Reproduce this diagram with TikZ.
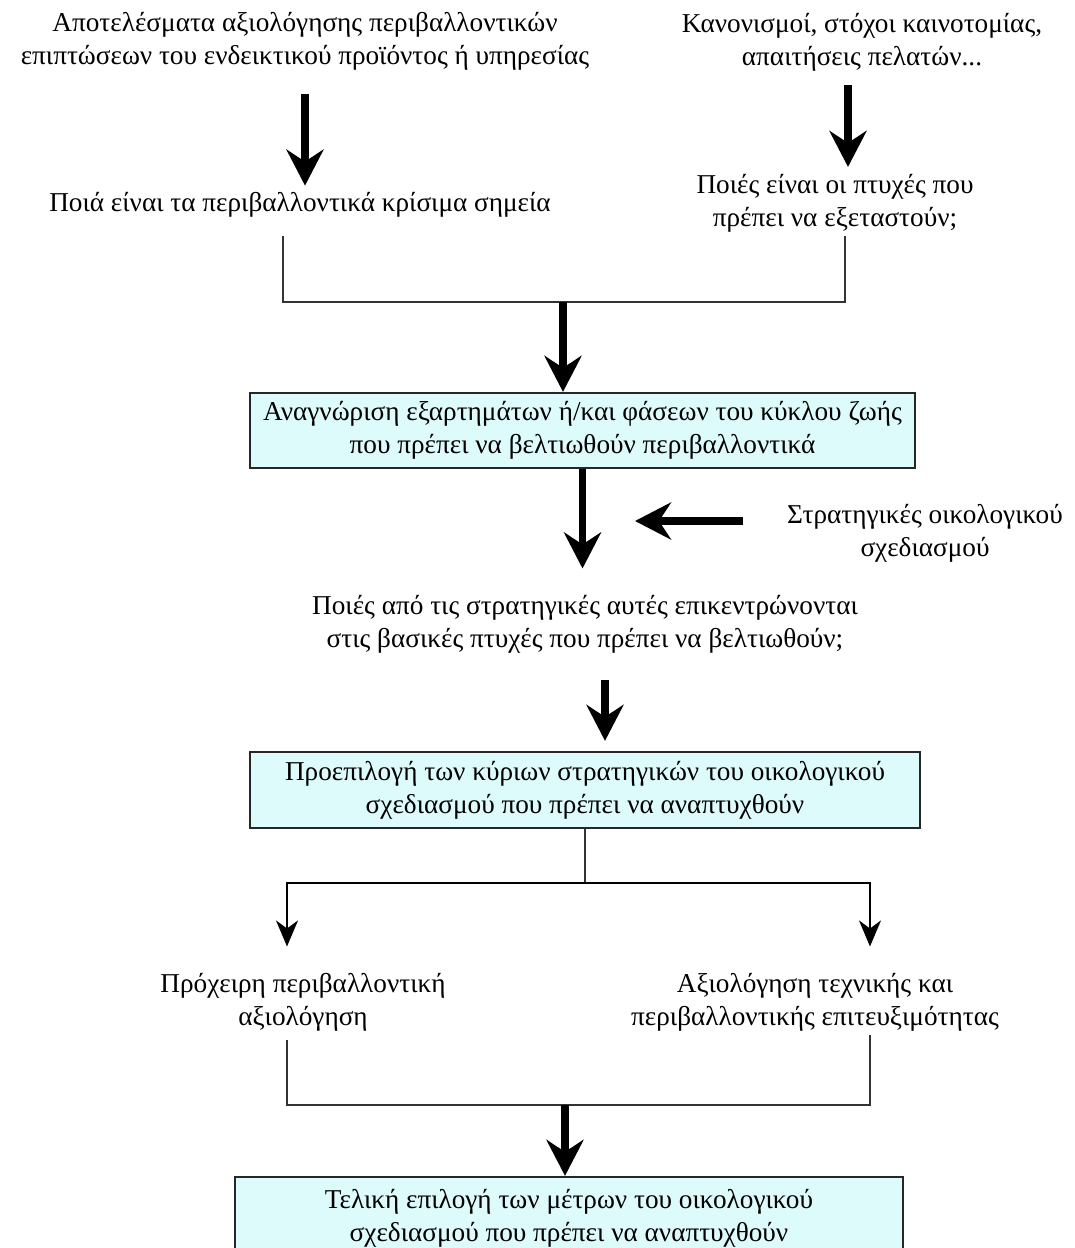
\documentclass[tikz,border=0pt]{standalone}
\usepackage{fontspec}
\setmainfont{Liberation Serif}
\usetikzlibrary{arrows.meta}
\definecolor{boxcyan}{RGB}{222,251,252}
\tikzset{
  txt/.style={align=center, font=\fontsize{15.5}{19}\selectfont, inner sep=2pt},
  greekbox/.style={txt, draw=black!85, line width=1.3pt, fill=boxcyan},
  bigarrow/.style={line width=4.2pt, -{Stealth[length=0.72cm,width=0.74cm,inset=0.24cm]}},
  thinarrow/.style={line width=1.1pt, -{Stealth[length=0.52cm,width=0.44cm,inset=0.16cm]}},
  joinline/.style={line width=1.2pt, black!80},
}
\begin{document}
\begin{tikzpicture}[x=0.02cm, y=-0.02cm]
        \path[use as bounding box, fill=white] (0,0) rectangle (1075,1248);

        % Texts at the top
        \node[txt] (res) at (305,41) {Αποτελέσματα αξιολόγησης περιβαλλοντικών\\επιπτώσεων του ενδεικτικού προϊόντος ή υπηρεσίας};
        \node[txt] (reg) at (862,42) {Κανονισμοί, στόχοι καινοτομίας,\\απαιτήσεις πελατών...};
        \node[txt] (crit) at (300,205) {Ποιά είναι τα περιβαλλοντικά κρίσιμα σημεία};
        \node[txt] (asp) at (835,203) {Ποιές είναι οι πτυχές που\\πρέπει να εξεταστούν;};

        % Boxes and middle texts
        \node[greekbox, minimum width=13.3cm, minimum height=1.5cm] (ident) at (582.5,430.5) {Αναγνώριση εξαρτημάτων ή/και φάσεων του κύκλου ζωής\\που πρέπει να βελτιωθούν περιβαλλοντικά};
        \node[txt] (strat) at (925,533) {Στρατηγικές οικολογικού\\σχεδιασμού};
        \node[txt] (focus) at (585,624) {Ποιές από τις στρατηγικές αυτές επικεντρώνονται\\στις βασικές πτυχές που πρέπει να βελτιωθούν;};
        \node[greekbox, minimum width=13.4cm, minimum height=1.52cm] (presel) at (585,790) {Προεπιλογή των κύριων στρατηγικών του οικολογικού\\σχεδιασμού που πρέπει να αναπτυχθούν};
        \node[txt] (rough) at (303,1002) {Πρόχειρη περιβαλλοντική\\αξιολόγηση};
        \node[txt] (feas) at (815,1002) {Αξιολόγηση τεχνικής και\\περιβαλλοντικής επιτευξιμότητας};
        \node[greekbox, minimum width=13.36cm, minimum height=1.64cm] (final) at (569,1218) {Τελική επιλογή των μέτρων του οικολογικού\\σχεδιασμού που πρέπει να αναπτυχθούν};

        % Junction points
        \coordinate (j1) at (563,302);
        \coordinate (j2) at (585,883);
        \coordinate (j3) at (565,1105);
        \coordinate (sin) at (635,521);

        % Top arrows
        \draw[bigarrow, shorten <=0.4cm, shorten >=0.06cm] (res.south) -- (res.south |- crit.north);
        \draw[bigarrow, shorten <=0.2cm, shorten >=0.06cm] ([xshift=-0.28cm]reg.south) -- ([xshift=-0.28cm]reg.south |- asp.north);

        % First bracket
        \draw[joinline, shorten <=0.3cm] ([xshift=-0.34cm]crit.south) |- (j1) -| ([xshift=0.2cm]asp.south);
        \draw[bigarrow] (j1) -- (j1 |- ident.north);

        % Strategies
        \draw[bigarrow, shorten >=0.45cm] (ident.south) -- (ident.south |- focus.north);
        \draw[bigarrow, shorten <=0.8cm] (strat.west |- sin) -- (sin);
        \draw[bigarrow, shorten <=0.45cm, shorten >=0.2cm] ([xshift=0.4cm]focus.south) -- ([xshift=0.4cm]focus.south |- presel.north);

        % Split below the second box
        \draw[joinline] (presel.south) -- (j2);
        \draw[thinarrow, shorten >=0.45cm] (j2) -| ([xshift=-0.32cm]rough.north);
        \draw[thinarrow, shorten >=0.45cm] (j2) -| ([xshift=1.1cm]feas.north);

        % Second bracket
        \draw[joinline, shorten <=0.1cm] ([xshift=-0.32cm]rough.south) |- (j3) -| ([xshift=1.1cm]feas.south);
        \draw[bigarrow] (j3) -- (j3 |- final.north);
\end{tikzpicture}
\end{document}
